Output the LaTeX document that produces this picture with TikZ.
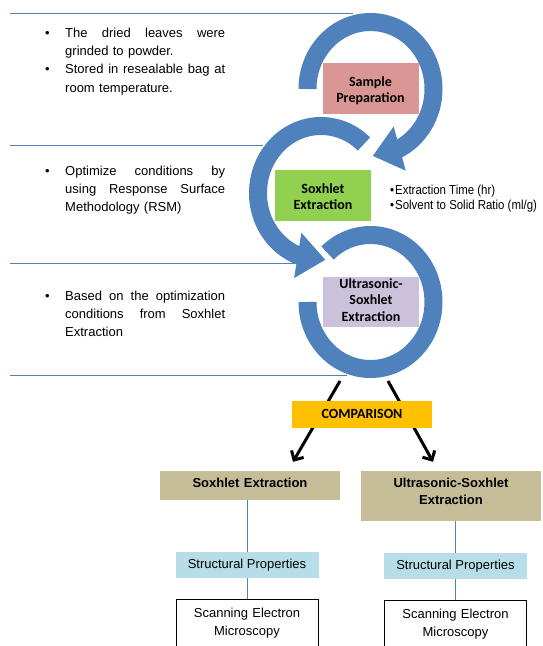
\documentclass[tikz,border=0pt]{standalone}
\usepackage{fontspec}
\setmainfont{Liberation Sans}
\newfontfamily\calibri{Carlito}
\newfontfamily\narrowsans[FakeStretch=0.88]{Liberation Sans}
\usetikzlibrary{arrows.meta,bending}
\definecolor{rblue}{RGB}{79,129,189}
\definecolor{rpink}{RGB}{217,150,148}
\definecolor{rgreen}{RGB}{146,208,80}
\definecolor{rlilac}{RGB}{204,193,218}
\definecolor{ramber}{RGB}{255,192,0}
\definecolor{rtan}{RGB}{196,189,151}
\definecolor{rsky}{RGB}{183,222,232}
% justified note lines with a hanging bullet
\newcommand{\firstline}[1]{\makebox[20pt][l]{\textbullet}\makebox[160pt][s]{\spaceskip=0pt\xspaceskip=0pt #1}}
\newcommand{\fullline}[1]{\hspace*{20pt}\makebox[160pt][s]{\spaceskip=0pt\xspaceskip=0pt #1}}
\newcommand{\lastline}[1]{\hspace*{20pt}#1}

\begin{document}
\begin{tikzpicture}[x=1pt,y=-1pt,
  ring/.style={rblue,line width=18pt},
  ringtip/.style={-{Triangle[width=44pt,length=28pt,flex]}},
  stage/.style={anchor=base,text width=96pt,inner sep=0pt,align=center,
    font=\calibri\bfseries\fontsize{14}{16.5}\selectfont},
  rule/.style={rblue,line width=1pt},
  note/.style={anchor=base west,inner sep=0pt,text width=180pt,align=left,
    font=\fontsize{13}{18.4}\selectfont},
  result/.style={anchor=base,fill=rtan,text width=180pt,inner sep=0pt,align=center,
    font=\bfseries\fontsize{13}{17}\selectfont},
  prop/.style={anchor=base,fill=rsky,minimum width=143pt,inner sep=0pt,
    text height=16pt,text depth=10pt,font=\fontsize{13}{18}\selectfont},
  sem/.style={anchor=base,draw,line width=0.8pt,text width=142pt,inner sep=0pt,align=center,
    text height=18pt,text depth=40pt,font=\fontsize{13}{18}\selectfont},
  link/.style={rblue,line width=0.8pt},
  push/.style={line width=3pt,-{Straight Barb[length=7pt,width=14pt]}}]
  \useasboundingbox (0,0) rectangle (543,646);
  \clip (0,0) rectangle (543,646);
  % guide rules
  \foreach \y/\x in {13/353,145/263,263/310,375/347}
    \draw[rule] (10,\y) -- (\x,\y);
  % rings
  \coordinate (c1) at (370.5,89);
  \coordinate (c2) at (321,193);
  \coordinate (c3) at (370.5,302);
  \draw[ring,ringtip] (c1) ++(180:63 and 67) arc[start angle=180,end angle=448,x radius=63,y radius=67];
  \draw[ring,ringtip] (c2) ++(313:63 and 67) arc[start angle=313,end angle=86,x radius=63,y radius=67];
  \draw[ring] (c3) ++(227:63 and 67) arc[start angle=227,end angle=540,x radius=63,y radius=67];
  % stages
  \node[stage,fill=rpink,text height=23pt,text depth=28pt] (prep) at (370.5,86) {Sample\\Preparation};
  \node[stage,fill=rgreen,text height=23pt,text depth=28pt] (soxh) at (323,193) {Soxhlet\\Extraction};
  \node[stage,fill=rlilac,text height=11pt,text depth=39pt] (ultra) at (371,288) {Ultrasonic-\\Soxhlet\\Extraction};
  \node[anchor=base west,inner sep=0pt,align=left,font=\narrowsans\fontsize{13}{15}\selectfont]
    (params) at (390,209) {\textbullet\kern1pt Extraction Time (hr)\\\textbullet\kern1pt Solvent to Solid Ratio (ml/g)};
  % notes
  \node[note] (notePrep) at (45,37) {\firstline{The dried leaves were}\\\lastline{grinded to powder.}\\
    \firstline{Stored in resealable bag at}\\\lastline{room temperature.}};
  \node[note] (noteSox) at (45,175) {\firstline{Optimize conditions by}\\\fullline{using Response Surface}\\
    \lastline{Methodology (RSM)}};
  \node[note] (noteUltra) at (45,300) {\firstline{Based on the optimization}\\\fullline{conditions from Soxhlet}\\
    \lastline{Extraction}};
  % comparison
  \coordinate (outL) at (340,381);
  \coordinate (outR) at (388,381);
  \node[result,text height=16pt,text depth=13pt] (sxLow) at (250,487) {Soxhlet Extraction};
  \node[result,text height=16pt,text depth=34pt] (usxLow) at (451,487) {Ultrasonic-Soxhlet\\Extraction};
  \draw[push] (outL) -- ([xshift=43pt,yshift=9pt]sxLow.north);
  \draw[push] (outR) -- ([xshift=-18pt,yshift=9pt]usxLow.north);
  \node[anchor=base,fill=ramber,minimum width=140pt,inner sep=0pt,text height=17pt,text depth=10pt,
    font=\calibri\bfseries\fontsize{14}{16}\selectfont] (cmp) at (362,418) {COMPARISON};
  % properties
  \node[prop] (propL) at (247,568) {Structural Properties};
  \node[prop] (propR) at (455.5,569) {Structural Properties};
  \node[sem] (semL) at (247,617) {Scanning Electron\\Microscopy};
  \node[sem] (semR) at (455.5,618) {Scanning Electron\\Microscopy};
  \draw[link] (propL.north |- sxLow.south) -- (propL.north);
  \draw[link] (propL.south) -- (semL.north);
  \draw[link] (propR.north |- usxLow.south) -- (propR.north);
  \draw[link] (propR.south) -- (semR.north);
\end{tikzpicture}
\end{document}
